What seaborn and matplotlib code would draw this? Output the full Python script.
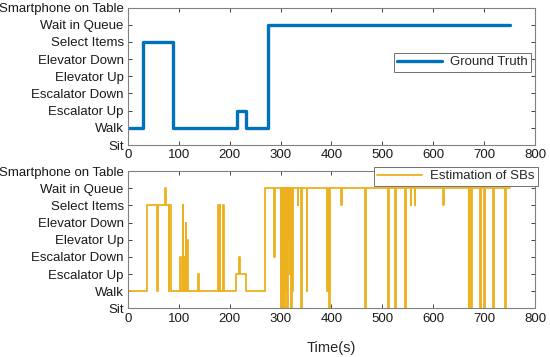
import numpy as np
import pandas as pd
import seaborn as sns
import matplotlib.pyplot as plt

activities = ['Sit', 'Walk', 'Escalator Up', 'Escalator Down', 'Elevator Up',
              'Elevator Down', 'Select Items', 'Wait in Queue', 'Smartphone on Table']
x_ticks = [0, 100, 200, 300, 400, 500, 600, 700, 800]

# ground truth: change points (time, level index)
gt_time = [0, 30, 88, 215, 232, 275, 750]
gt_level = [1, 6, 1, 2, 1, 7, 7]

# estimated activity: change points (time, level index)
est_time = [0, 38, 57, 59, 72, 74, 80, 81, 85,
            103, 105, 108, 109, 110, 111, 114, 115, 116, 117,
            137, 139, 177, 179, 180, 181, 186, 188, 189,
            212, 219, 221, 231, 270, 287, 288,
            300, 301, 303, 304, 305, 306, 307, 308, 309, 310, 311, 312,
            313, 314, 316, 317, 318, 319, 321, 322, 323, 324,
            334, 335, 340, 342, 351, 352, 392, 393, 396, 397,
            418, 420, 466, 468, 512, 514, 524, 526, 545, 547,
            556, 557, 564, 565, 620, 622, 670, 671, 675, 677,
            692, 694, 700, 701, 717, 719, 741, 743, 750]
est_level = [1, 6, 1, 6, 7, 6, 1, 6, 1,
             3, 1, 6, 1, 3, 1, 5, 1, 4, 1,
             2, 1, 6, 1, 6, 1, 6, 5, 1,
             2, 3, 2, 1, 7, 3, 7,
             0, 7, 0, 7, 3, 7, 0, 7, 2, 7, 1, 7,
             0, 7, 4, 7, 2, 7, 0, 7, 1, 7,
             6, 7, 0, 7, 1, 7, 1, 7, 0, 7,
             6, 7, 0, 7, 0, 7, 0, 7, 0, 7,
             6, 7, 6, 7, 6, 7, 0, 7, 0, 7,
             0, 7, 0, 7, 0, 7, 0, 7, 7]

gt_df = pd.DataFrame({'time': gt_time, 'level': gt_level})
est_df = pd.DataFrame({'time': est_time, 'level': est_level})

sns.set_style('white')
plt.rcParams['font.family'] = ['Liberation Sans', 'DejaVu Sans']
plt.rcParams['font.size'] = 9.5
axis_color = '#262626'

fig = plt.figure(figsize=(5.5, 3.57), dpi=100)
ax1 = fig.add_axes([0.2327, 0.5938, 0.74, 0.385])
ax2 = fig.add_axes([0.2327, 0.1359, 0.74, 0.385])

sns.lineplot(data=gt_df, x='time', y='level', ax=ax1, drawstyle='steps-post',
             color='#0072BD', linewidth=2.4, label='Ground Truth')
sns.lineplot(data=est_df, x='time', y='level', ax=ax2, drawstyle='steps-post',
             color='#EDB120', linewidth=1.3, label='Estimation of SBs')

for ax in (ax1, ax2):
    ax.set_xlim(0, 800)
    ax.set_ylim(0, 8)
    ax.set_xticks(x_ticks)
    ax.set_xticklabels([str(t) for t in x_ticks])
    ax.set_yticks(range(len(activities)))
    ax.set_yticklabels(activities)
    ax.set_xlabel('')
    ax.set_ylabel('')
    ax.tick_params(direction='in', length=3, width=0.6, color=axis_color,
                   labelsize=9.5, labelcolor='#1a1a1a', top=True, right=True,
                   bottom=True, left=True, pad=3)
    for sp in ax.spines.values():
        sp.set_color('#808080')
        sp.set_linewidth(0.8)
        sp.set_visible(True)

leg1 = ax1.legend(loc='upper right', bbox_to_anchor=(0.99, 0.67), fontsize=9.5,
                  handlelength=3.4, borderpad=0.25, handletextpad=0.6,
                  fancybox=False, framealpha=1, borderaxespad=0)
leg1.get_frame().set_edgecolor('#707070')
leg1.get_frame().set_linewidth(0.7)

leg2 = ax2.legend(loc='upper right', bbox_to_anchor=(1.007, 1.03), fontsize=9.5,
                  handlelength=3.4, borderpad=0.25, handletextpad=0.6,
                  fancybox=False, framealpha=1, borderaxespad=0)
leg2.get_frame().set_edgecolor('#707070')
leg2.get_frame().set_linewidth(0.7)
leg2.set_zorder(5)

ax2.set_xlabel('Time(s)', fontsize=10.5, labelpad=12)

fig.savefig('out.png', dpi=100)
